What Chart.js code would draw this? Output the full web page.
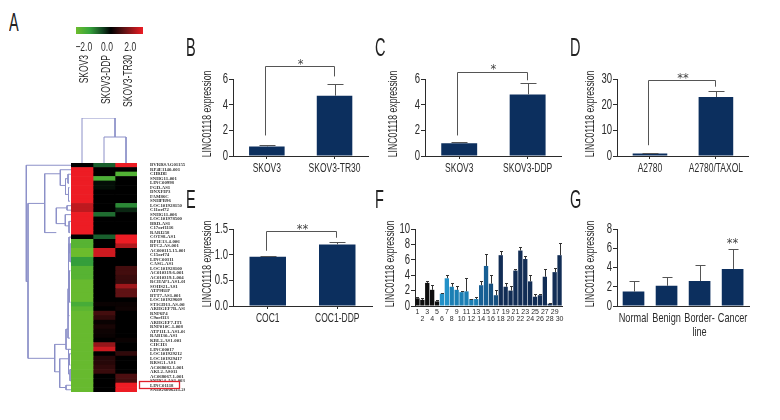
<!DOCTYPE html>
<html>
<head>
<meta charset="utf-8">
<title>LINC01118 expression</title>
<script src="https://cdn.jsdelivr.net/npm/chart.js@4"></script>
<style>
body { margin: 0; background: #fff; width: 780px; height: 420px; overflow: hidden; position: relative; }
canvas { position: absolute; }
.letter { position: absolute; font: 25px "Liberation Sans", sans-serif; color: #222; line-height: 25px; transform: scaleX(0.58); transform-origin: left top; }
</style>
</head>
<body>
<script>
// Panels B, C, D, E
var catsB = ['SKOV3', 'SKOV3-TR30'];
var valsB = [0.75, 4.7];
var topsB = [0.85, 5.6];
var catsC = ['SKOV3', 'SKOV3-DDP'];
var valsC = [1.0, 4.8];
var topsC = [1.1, 5.65];
var catsD = ['A2780', 'A2780/TAXOL'];
var valsD = [1.0, 23];
var topsD = [1.25, 25.5];
var catsE = ['COC1', 'COC1-DDP'];
var valsE = [0.96, 1.2];
var topsE = [0.975, 1.25];

// Panel F, 30 samples
var catsF = ['1','2','3','4','5','6','7','8','9','10','11','12','13','14','15','16','17','18','19','20','21','22','23','24','25','26','27','28','29','30'];
var valsF = [1.0,0.8,3.0,2.1,0.6,1.6,3.6,2.5,2.1,1.8,1.9,0.9,0.9,2.7,5.2,2.9,1.4,6.6,2.5,2.0,4.6,7.2,6.1,3.2,1.2,1.4,3.8,0.3,4.4,6.6];
var topsF = [1.2,1.0,3.2,2.75,0.8,1.75,4.0,3.0,2.6,1.9,3.6,0.95,1.15,3.2,6.75,4.05,2.1,7.1,3.0,2.6,4.8,7.65,6.45,4.0,1.6,1.55,4.75,0.4,4.9,8.2];

// Panel G
var catsG = ['Normal', 'Benign', ['Border-', 'line'], 'Cancer'];
var valsG = [1.5, 2.1, 2.6, 3.85];
var topsG = [2.55, 3.05, 4.3, 5.95];

// Panel A heatmap, one list per column
var heatColumns = ['SKOV3', 'SKOV3-DDP', 'SKOV3-TR30'];
var heatRows = ['BVRRSAG011554','RP4E1140-001','CHRDE','SNHG11-001','LINC00998','FGD-AS1','DNXFIP3','FAM86C','SNHPB96','LOC101928150',
  'C11orf72','SNHG11-006','LOC101978500','BRD-AS1','C17orf1116','RARI258','COTS8-AS1','RP1E13-4-006','BTC2-AS-001','AC000115.15-001',
  'C15orf74','LINC00311','CASG-AS1','LOC101928100','AC010319.6-001','AC010319.1-004','RCHAP1-AS1-011','SOHS21-AS1','ATP9B1P','BTT7-AS1-001',
  'LOC101929609','ST3GD13-AS-008','ARHGEF7B-AS1-003','RNF6P4','C9orf113','ARHGEF7-IT1','RNF010C.1-008','ATP11L1-AS1-001','RAB130-AS1','KBL2-AS1-001',
  'CHCH3','LINC00017','LOC101929212','LOC101929417','RRSG1-AS1','AC068082.1-001','AKL2-AS011','AC068067.1-001','SNHG4-AS1-003','LINC01118','SNHG6006211.261'];
var heatSKOV3 = [0,3,3,3,3,3,3,3,3,2.1,2.1,3,3,3,3,3,0,-2.6,-2.6,-3,-3,-1.9,-1.9,-2.6,-2.6,-2.6,-2.9,-2.9,-2.9,-2.9,-2.9,-2.3,-2.7,
  -2.9,-2.9,-2.9,-2.9,-2.9,-2.9,-2.9,-2.9,-2.9,-2.9,-2.9,-2.9,-2.9,-2.9,-2.9,-2.9,-2.9,-2.9];
var heatDDP = [-1,0,0,-2.4,-0.15,-0.15,0,0,0,0,0,-1.2,0,0,0,0,-1,0,0,2.4,2.4,0,0,0,0,0,0,0,0,0,0,0.1,0,0.7,0.5,0.1,0.25,0.15,0.1,0,1.6,2.4,0,0.4,0.4,0.5,0.6,0,0,0,0];
var heatTR30 = [3,0,-2.5,0,0,0,0,0,0,-1.6,-0.4,0,0,0,0,0,3,3,1.9,0,0,0,0,0.7,0.7,0.6,0.6,1.7,1,1,0,0.1,0.15,0,0,0,0,0,0,0.1,0,0,0.5,0,0,0,0,0.8,0.7,3,3];
var highlightRow = 'LINC01118';

// dendrogram merges: [height, row/column A, row/column B, height of child A, height of child B]
var topMerges = [[45, 0.5, 2, 0, 26], [26, 1.5, 2.5, 0, 0]];
var leftMerges = [
  [44.7, 0.5, 26.4, 0, 43], [43, 9, 43.5, 26.3, 16.3],
  [26.3, 2.4, 15.5, 10.7, 14.7], [10.7, 1.5, 5, 0, 5.5], [5.5, 3.5, 7, 3, 2.5], [3, 2.5, 4.5, 0, 2], [2.5, 5.5, 8.5, 1.5, 1],
  [14.7, 10, 13.5, 4, 5.7], [4, 9.5, 10.5, 0, 0], [5.7, 11.5, 14, 0, 2], [2, 13, 15.5, 0, 1],
  [16.3, 40.4, 46.5, 5, 11.3], [5, 37, 41.5, 3, 0], [3, 28, 39, 2.5, 1], [2.5, 18, 34, 2, 1.5], [2, 16.5, 20, 0, 1], [1.5, 24, 31, 0.5, 0.5], [1, 18, 22, 0, 0],
  [11.3, 43.6, 50, 2.5, 5], [5, 49.5, 50.5, 0, 0], [2.5, 41.5, 47, 1.5, 1], [1.5, 42.5, 45, 0, 0.5], [1, 46, 48.5, 0, 0]
];

// colour key
var keyRange = [-2.67, 3.1];
var keyTicks = [-2, 0, 2];

var SANS = '"Liberation Sans"';
var NAVY = '#0c2f5e';
var INK = '#2b2b2b';

Chart.defaults.animation = false;
Chart.defaults.responsive = false;
Chart.defaults.plugins.legend.display = false;
Chart.defaults.plugins.tooltip.enabled = false;

function addCanvas(left, top, width, height) {
	let c = document.createElement('canvas');
	c.width = width;
	c.height = height;
	c.style.left = left + 'px';
	c.style.top = top + 'px';
	document.body.appendChild(c);
	let ctx = c.getContext('2d');
	// no condensed face is installed, so squeeze the sans labels sideways
	let plainFillText = ctx.fillText;
	ctx.fillText = function (text, x, y) {
		if (this.font.indexOf('Liberation Sans') < 0 || parseFloat(this.font) < 9) {
			plainFillText.call(this, text, x, y);
			return;
		}
		this.save();
		this.translate(x, y);
		this.scale(0.68, 1);
		plainFillText.call(this, text, 0, 0);
		this.restore();
	};
	return ctx;
}

function addLetter(text, left, top) {
	let d = document.createElement('div');
	d.className = 'letter';
	d.textContent = text;
	d.style.left = left + 'px';
	d.style.top = top + 'px';
	document.body.appendChild(d);
}

function heatColor(v) {
	let stops = [[-3, 108, 188, 45], [-2, 55, 165, 60], [-1, 25, 95, 45], [0, 0, 0, 0], [1, 95, 18, 20], [2, 185, 25, 30], [3, 237, 28, 36]];
	let i;
	for (i = 0; i < stops.length - 1; i++) {
		if (v <= stops[i + 1][0]) {
			let t = (v - stops[i][0]) / (stops[i + 1][0] - stops[i][0]);
			let c = [1, 2, 3].map(function (k) { return Math.round(stops[i][k] + (stops[i + 1][k] - stops[i][k]) * t); });
			return 'rgb(' + c.join(',') + ')';
		}
	}
	return 'rgb(237,28,36)';
}

// error bars, title, bracket and stars for the bar panels
var panelMarks = {
	id: 'panelMarks',
	afterDatasetsDraw(chart, args, o) {
		let ctx = chart.ctx;
		let x = chart.scales.x;
		let y = chart.scales.y;
		let area = chart.chartArea;
		ctx.save();
		ctx.lineWidth = 1;
		o.tops.forEach(function (top, i) {
			let px = Math.round(x.getPixelForValue(i)) + 0.5;
			let py = Math.round(y.getPixelForValue(top)) + 0.5;
			ctx.strokeStyle = o.errorColor;
			ctx.beginPath();
			ctx.moveTo(px, y.getPixelForValue(o.values[i]));
			ctx.lineTo(px, py);
			ctx.moveTo(px - o.cap, py);
			ctx.lineTo(px + o.cap, py);
			ctx.stroke();
		});
		if (o.bracket) {
			let b = o.bracket;
			let xa = Math.round(x.getPixelForValue(0)) - 1.5;
			let xb = Math.round(x.getPixelForValue(1)) - 0.5;
			let yt = Math.round(y.getPixelForValue(b.top)) + 0.5;
			ctx.strokeStyle = '#555';
			ctx.beginPath();
			ctx.moveTo(xa, y.getPixelForValue(b.left));
			ctx.lineTo(xa, yt);
			ctx.lineTo(xb, yt);
			ctx.lineTo(xb, y.getPixelForValue(b.right));
			ctx.stroke();
		}
		if (o.stars) {
			ctx.fillStyle = '#444';
			ctx.textAlign = 'center';
			ctx.textBaseline = 'alphabetic';
			ctx.font = '11.5px "DejaVu Sans"';
			let sx = o.bracket ? (x.getPixelForValue(0) + x.getPixelForValue(1)) / 2 : x.getPixelForValue(o.starIndex);
			ctx.fillText(o.stars, sx, y.getPixelForValue(o.starValue));
		}
		ctx.translate(area.left + o.titleOffset, (area.top + area.bottom) / 2 - 3.5);
		ctx.rotate(-Math.PI / 2);
		ctx.fillStyle = INK;
		ctx.textAlign = 'center';
		ctx.textBaseline = 'middle';
		ctx.font = '12.7px ' + SANS;
		ctx.fillText('LINC01118 expression', 0, 0);
		ctx.restore();
	}
};

function barPanel(box, cats, vals, tops, yMax, yStep, extra) {
	let ctx = addCanvas(box.l - 45, box.t - 25, box.r - box.l + 50, box.b - box.t + 62);
	return new Chart(ctx, {
		type: 'bar',
		data: {
			labels: cats,
			datasets: [{ data: vals, backgroundColor: extra.colors || NAVY, barPercentage: extra.barWidth || 0.525, categoryPercentage: 1 }]
		},
		options: {
			layout: { padding: { top: 25, right: 5 } },
			scales: {
				x: {
					offset: true,
					border: { color: INK },
					grid: { drawOnChartArea: false, drawTicks: extra.xTicks !== false, tickLength: 3, color: INK, offset: false },
					ticks: Object.assign({ color: INK, font: { family: SANS, size: extra.xFont || 12.5, lineHeight: 1.05 }, maxRotation: 0, minRotation: 0, autoSkip: false, padding: extra.xPad || 3 }, extra.xTickOpts || {}),
					afterFit(s) { s.height = 37; }
				},
				y: {
					min: 0,
					max: yMax,
					border: { color: INK },
					grid: { drawOnChartArea: false, tickLength: 4, color: INK },
					ticks: { stepSize: yStep, autoSkip: false, color: INK, font: { family: SANS, size: 14 }, padding: 1, callback: extra.yFormat },
					afterFit(s) { s.width = 45; }
				}
			},
			plugins: {
				panelMarks: {
					values: vals,
					tops: tops,
					cap: extra.cap || 8,
					errorColor: extra.errorColor || '#555',
					titleOffset: extra.titleOffset,
					bracket: extra.bracket,
					stars: extra.stars,
					starIndex: extra.starIndex,
					starValue: extra.starValue
				}
			}
		},
		plugins: [panelMarks]
	});
}

function dendrogram(ctx, merges, horizontal, xScale, yScale, padding) {
	let datasets = merges.map(function (m) {
		let pts = [[m[3], m[1]], [m[0], m[1]], [m[0], m[2]], [m[4], m[2]]];
		return {
			data: pts.map(function (p) { return horizontal ? { x: p[0], y: p[1] } : { x: p[1], y: p[0] }; }),
			showLine: true, pointRadius: 0, borderColor: '#8c90c8', borderWidth: 1, tension: 0, clip: false
		};
	});
	return new Chart(ctx, {
		type: 'scatter',
		data: { datasets: datasets },
		options: { layout: { padding: padding }, scales: { x: xScale, y: yScale } }
	});
}

// ---- panel A ----
addLetter('A', 9, 10);

var keyChart = new Chart(addCanvas(66, 20, 90, 34), {
	type: 'bar',
	data: {
		labels: ['key'],
		datasets: [{
			data: [keyRange],
			barPercentage: 1,
			categoryPercentage: 1,
			backgroundColor: function (c) {
				let a = c.chart.chartArea;
				if (!a) return '#000';
				let g = c.chart.ctx.createLinearGradient(a.left, 0, a.right, 0);
				g.addColorStop(0, heatColor(-3));
				g.addColorStop(0.2, heatColor(-2));
				g.addColorStop(0.4, heatColor(-0.7));
				g.addColorStop(0.52, '#000');
				g.addColorStop(0.72, heatColor(1));
				g.addColorStop(1, heatColor(3));
				return g;
			}
		}]
	},
	options: {
		indexAxis: 'y',
		layout: { padding: { left: 10, right: 13, top: 7 } },
		scales: {
			y: { display: false },
			x: {
				min: keyRange[0],
				max: keyRange[1],
				border: { display: false },
				grid: { display: false },
				afterBuildTicks(s) { s.ticks = keyTicks.map(function (v) { return { value: v }; }); },
				ticks: {
					color: INK,
					padding: -2,
					maxRotation: 0,
					autoSkip: false,
					font: { family: SANS, size: 12.5 },
					callback(v) { return (v < 0 ? '\u2212' : '') + Math.abs(v).toFixed(1); }
				},
				afterFit(s) { s.height = 20; }
			}
		}
	}
});

dendrogram(addCanvas(71, 118, 66, 45), topMerges, false,
	{ type: 'linear', min: 0, max: 3, display: false },
	{ type: 'linear', min: 0, max: 45, display: false },
	0);

dendrogram(addCanvas(20, 163, 51, 229), leftMerges, true,
	{ type: 'linear', min: 0, max: 51, reverse: true, display: false },
	{ type: 'linear', min: 0, max: 51, reverse: true, display: false },
	0);

var heatLabels = {
	id: 'heatLabels',
	afterDraw(chart) {
		let ctx = chart.ctx;
		let x = chart.scales.x;
		let y = chart.scales.y;
		ctx.save();
		ctx.fillStyle = INK;
		ctx.font = '12.5px ' + SANS;
		heatColumns.forEach(function (name, i) {
			ctx.save();
			ctx.translate(x.getPixelForValue(i + 0.5) + 3, chart.chartArea.top - 108);
			ctx.rotate(-Math.PI / 2);
			ctx.textAlign = 'right';
			ctx.textBaseline = 'middle';
			ctx.fillText(name, 0, 0);
			ctx.restore();
		});
		// box round the LINC01118 row label
		let py = y.getPixelForValue(heatRows.indexOf(highlightRow));
		ctx.strokeStyle = '#e0202a';
		ctx.lineWidth = 1.3;
		ctx.strokeRect(chart.chartArea.right + 2.5, Math.round(py) - 3.5, 40, 7);
		ctx.restore();
	}
};

new Chart(addCanvas(60, 40, 125, 360), {
	type: 'bar',
	data: {
		labels: heatRows,
		datasets: [heatSKOV3, heatDDP, heatTR30].map(function (col) {
			return { data: col.map(function () { return 1; }), backgroundColor: col.map(heatColor), barPercentage: 1, categoryPercentage: 1 };
		})
	},
	options: {
		indexAxis: 'y',
		layout: { padding: { left: 11, top: 123, bottom: 8 } },
		scales: {
			x: { stacked: true, min: 0, max: 3, display: false },
			y: {
				stacked: true,
				position: 'right',
				border: { display: false },
				grid: { display: false },
				ticks: { autoSkip: false, padding: 5, color: '#333', font: { family: '"Liberation Serif"', size: 4.8, weight: 'bold' } },
				afterFit(s) { s.width = 48; }
			}
		}
	},
	plugins: [heatLabels]
});

// ---- bar panels ----
addLetter('B', 186, 35);
barPanel({ l: 233, r: 372, t: 79, b: 156 }, catsB, valsB, topsB, 6, 2, {
	titleOffset: -26, bracket: { top: 7.0, left: 1.6, right: 6.2 }, stars: '*', starValue: 6.86
});

addLetter('C', 375, 35);
barPanel({ l: 425, r: 563, t: 79, b: 156 }, catsC, valsC, topsC, 6, 2, {
	titleOffset: -32, bracket: { top: 6.57, left: 1.6, right: 5.9 }, stars: '*', starValue: 6.45
});

addLetter('D', 570, 35);
barPanel({ l: 617, r: 755, t: 79, b: 156 }, catsD, valsD, topsD, 30, 10, {
	titleOffset: -27, bracket: { top: 29.6, left: 4.2, right: 27 }, stars: '**', starValue: 28.8
});

addLetter('E', 186, 187);
barPanel({ l: 233, r: 372, t: 229, b: 306 }, catsE, valsE, topsE, 1.5, 0.5, {
	titleOffset: -26, bracket: { top: 1.454, left: 1.076, right: 1.33 }, stars: '**', starValue: 1.43,
	yFormat: function (v) { return Number(v).toFixed(1); }
});

addLetter('F', 375, 187);
var colorsF = catsF.map(function (c, i) {
	if (i < 5) return '#0e0e0e';
	if (i < 7) return '#2391c8';
	if (i < 13) return '#1c7fb4';
	if (i < 15) return '#175f94';
	if (i < 17) return '#16507f';
	return '#122d55';
});
barPanel({ l: 415, r: 562, t: 229, b: 306 }, catsF, valsF, topsF, 10, 2, {
	titleOffset: -25, barWidth: 0.88, cap: 1.5, errorColor: '#333', colors: colorsF, xTicks: false, xFont: 7.5, xPad: 3,
	xTickOpts: {
		font: { family: SANS, size: 7, lineHeight: 1 },
		callback: function (v, i) { let s = this.getLabelForValue(v); return i % 2 ? ['', s] : s; }
	}
});

addLetter('G', 570, 187);
barPanel({ l: 617, r: 755, t: 229, b: 306 }, catsG, valsG, topsG, 8, 2, {
	titleOffset: -27, barWidth: 0.656, cap: 5, xTicks: false, xFont: 13.5, xPad: 5, stars: '**', starIndex: 3, starValue: 6.13
});
</script>
</body>
</html>
